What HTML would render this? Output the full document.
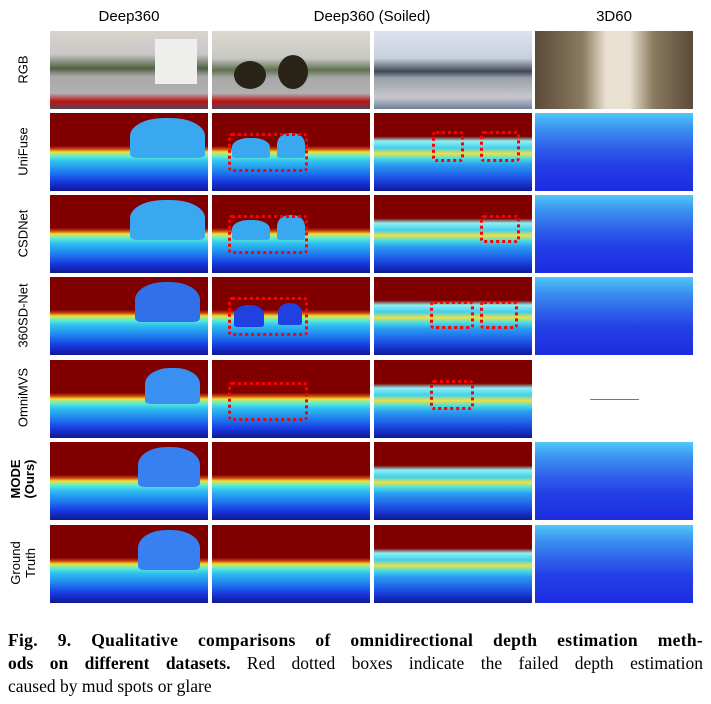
<!DOCTYPE html>
<html><head><meta charset="utf-8"><style>
body{margin:0;width:711px;height:704px;background:#fff;position:relative;overflow:hidden;font-family:"Liberation Sans",sans-serif}
.t{position:absolute}
.ch{position:absolute;top:8px;font-size:15px;text-align:center;width:158px}
.rl{position:absolute;left:-16px;width:78px;font-size:13px;text-align:center;transform:rotate(-90deg);transform-origin:center}
.d{position:absolute;width:158px;height:78px;background:linear-gradient(#800000 0%,#800000 42%,#c84010 46%,#f0e030 50%,#60f0d0 55%,#30c0f0 62%,#2080f0 75%,#1838e0 88%,#101890 100%)}
.d.s{background:linear-gradient(#800000 0%,#800000 30%,#8ef0f0 36%,#40d0f0 45%,#f0e040 52%,#50e0e0 58%,#2aa0f0 66%,#1f60ea 80%,#1530c8 92%,#101890 100%)}
.d.b{background:linear-gradient(#50c8f8 0%,#3a90f0 20%,#2f60ea 45%,#2440e6 65%,#1c2ce0 100%)}
.r{position:absolute;width:158px;height:78px}
.box{position:absolute;border:3px dotted #f00;border-radius:4px}
.blob{position:absolute;background:#3aa8f0;border-radius:45% 45% 10% 10%}
.cl{display:block;text-align:justify;text-align-last:justify;white-space:nowrap}
</style></head><body>
<div class="ch" style="left:50px">Deep360</div>
<div class="ch" style="left:212px;width:320px">Deep360 (Soiled)</div>
<div class="ch" style="left:535px">3D60</div>

<div class="rl" style="top:62px">RGB</div>
<div class="rl" style="top:144px">UniFuse</div>
<div class="rl" style="top:226px">CSDNet</div>
<div class="rl" style="top:308px">360SD-Net</div>
<div class="rl" style="top:390px">OmniMVS</div>
<div class="rl" style="top:465px;font-weight:bold;line-height:14px">MODE<br>(Ours)</div>
<div class="rl" style="top:548px;line-height:15px">Ground<br>Truth</div>

<div class="r" style="left:50px;top:31px;background:linear-gradient(#d8d4cc 0%,#c8c8c8 30%,#506040 48%,#a8a8a8 58%,#b0b0b0 80%,#c01010 90%,#504858 100%)"><div style="position:absolute;left:105px;top:8px;width:42px;height:45px;background:#eeeeec"></div></div>
<div class="r" style="left:212px;top:31px;background:linear-gradient(#dcd8d0 0%,#c8c8c4 35%,#607050 50%,#a8a8a8 60%,#b0b0b0 80%,#c01010 90%,#504858 100%)"><div style="position:absolute;left:22px;top:30px;width:32px;height:28px;background:#2a2418;border-radius:50%"></div><div style="position:absolute;left:66px;top:24px;width:30px;height:34px;background:#2a2418;border-radius:50%"></div></div>
<div class="r" style="left:374px;top:31px;background:linear-gradient(#dde4ee 0%,#c8d0dc 35%,#404858 52%,#9aa0a8 60%,#c8c8cc 85%,#7080a0 100%)"></div>
<div class="r" style="left:535px;top:31px;background:linear-gradient(90deg,#5a4a38,#8a7a60 30%,#e8e0d0 45%,#e8e0d0 60%,#8a7a60 75%,#5a4a38)"></div>

<div class="d" style="left:50px;top:113px"><div class="blob" style="left:80px;top:5px;width:75px;height:40px"></div></div>
<div class="d" style="left:212px;top:113px"><div class="blob" style="left:20px;top:25px;width:38px;height:20px"></div><div class="blob" style="left:65px;top:20px;width:28px;height:25px"></div><div class="box" style="left:16px;top:20px;width:74px;height:33px"></div></div>
<div class="d s" style="left:374px;top:113px"><div class="box" style="left:58px;top:18px;width:26px;height:25px"></div><div class="box" style="left:106px;top:18px;width:34px;height:25px"></div></div>
<div class="d b" style="left:535px;top:113px"></div>

<div class="d" style="left:50px;top:195px"><div class="blob" style="left:80px;top:5px;width:75px;height:40px"></div></div>
<div class="d" style="left:212px;top:195px"><div class="blob" style="left:20px;top:25px;width:38px;height:20px"></div><div class="blob" style="left:65px;top:20px;width:28px;height:25px"></div><div class="box" style="left:16px;top:20px;width:74px;height:33px"></div></div>
<div class="d s" style="left:374px;top:195px"><div class="box" style="left:106px;top:20px;width:34px;height:22px"></div></div>
<div class="d b" style="left:535px;top:195px"></div>

<div class="d" style="left:50px;top:277px"><div class="blob" style="left:85px;top:5px;width:65px;height:40px;background:#3070e8"></div></div>
<div class="d" style="left:212px;top:277px"><div class="blob" style="left:22px;top:28px;width:30px;height:22px;background:#2040e0"></div><div class="blob" style="left:66px;top:26px;width:24px;height:22px;background:#2040e0"></div><div class="box" style="left:16px;top:20px;width:74px;height:33px"></div></div>
<div class="d s" style="left:374px;top:277px"><div class="box" style="left:56px;top:24px;width:38px;height:22px"></div><div class="box" style="left:106px;top:24px;width:32px;height:22px"></div></div>
<div class="d b" style="left:535px;top:277px"></div>

<div class="d" style="left:50px;top:360px"><div class="blob" style="left:95px;top:8px;width:55px;height:36px;background:#3a90f0"></div></div>
<div class="d" style="left:212px;top:360px"><div class="box" style="left:16px;top:22px;width:74px;height:33px"></div></div>
<div class="d s" style="left:374px;top:360px"><div class="box" style="left:56px;top:20px;width:38px;height:24px"></div></div>
<div class="t" style="left:590px;top:399px;width:49px;height:1px;background:#777"></div>

<div class="d" style="left:50px;top:442px"><div class="blob" style="left:88px;top:5px;width:62px;height:40px;background:#3880f0"></div></div>
<div class="d" style="left:212px;top:442px"></div>
<div class="d s" style="left:374px;top:442px"></div>
<div class="d b" style="left:535px;top:442px"></div>

<div class="d" style="left:50px;top:525px"><div class="blob" style="left:88px;top:5px;width:62px;height:40px;background:#3880f0"></div></div>
<div class="d" style="left:212px;top:525px"></div>
<div class="d s" style="left:374px;top:525px"></div>
<div class="d b" style="left:535px;top:525px"></div>

<div class="t" style="left:8px;top:629px;width:695px;font-family:'Liberation Serif',serif;font-size:17.5px;line-height:23px">
<span class="cl" style="letter-spacing:0.3px"><b>Fig. 9. Qualitative comparisons of omnidirectional depth estimation meth-</b></span>
<span class="cl"><b>ods on different datasets.</b> Red dotted boxes indicate the failed depth estimation</span>
<span style="display:block">caused by mud spots or glare</span></div>
</body></html>
